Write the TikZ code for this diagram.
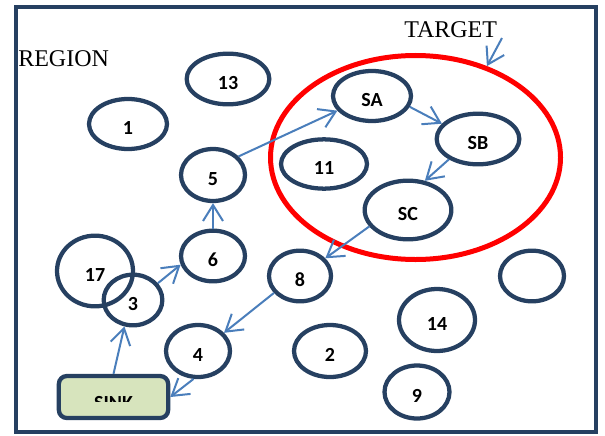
\documentclass[tikz,border=0pt]{standalone}
\usepackage{fontspec}
\setmainfont{Liberation Serif}
\newfontfamily\calfont{Carlito}
\usetikzlibrary{shapes.geometric,arrows.meta}

\definecolor{navy}{RGB}{38,64,97}
\definecolor{linkblue}{RGB}{74,126,187}
\definecolor{sinkgreen}{RGB}{215,228,189}

\begin{document}
\begin{tikzpicture}[x=0.75pt,y=-0.75pt,
	sensor/.style={ellipse,draw=navy,line width=3.2pt,inner sep=0pt,text height=15pt,text depth=0pt,font=\calfont\bfseries\fontsize{15}{18}\selectfont},
	link/.style={->,draw=linkblue,line width=1.5pt},
	>={Straight Barb[length=12pt,width=15pt]}]
	\useasboundingbox (0,0) rectangle (605,435);
	\draw[navy,line width=3.2pt] (16,7) rectangle (596,432);

	% Labels start here
	\node (region) at (18,66) [anchor=base west,inner sep=0pt,font=\fontsize{18}{20}\selectfont] {REGION};
	\node (tlabel) at (404,38) [anchor=base west,inner sep=0pt,font=\fontsize{18}{20}\selectfont] {TARGET};
	\coordinate (tgt) at (502,38);

	% Target area
	\node (target) at (415.5,157.5) [ellipse,draw=red,line width=3.75pt,inner sep=0pt,minimum width=217.5pt,minimum height=153pt] {};

	% Nodes start here
	\node (n13) at (228,79) [sensor,minimum width=62pt,minimum height=38pt] {13};
	\node (n1) at (128,124) [sensor,minimum width=58.5pt,minimum height=37.5pt] {1};
	\node (n5) at (213,175) [sensor,minimum width=48pt,minimum height=39pt] {5};
	\node (n11) at (324,164) [sensor,minimum width=64.5pt,minimum height=37pt] {11};
	\node (sa) at (372,96) [sensor,minimum width=58.5pt,minimum height=37.5pt] {SA};
	\node (sb) at (478,139) [sensor,minimum width=62pt,minimum height=38pt] {SB};
	\node (sc) at (408,210) [sensor,minimum width=65pt,minimum height=44pt] {SC};
	\node (n17) at (95,271) [sensor,minimum width=57pt,minimum height=53pt] {17};
	\node (n3) at (133,300) [sensor,minimum width=44pt,minimum height=38pt] {3};
	\node (n6) at (213,256) [sensor,minimum width=48pt,minimum height=38pt] {6};
	\node (n8) at (300,276) [sensor,minimum width=46.5pt,minimum height=38pt] {8};
	\node (n4) at (198,351) [sensor,minimum width=48pt,minimum height=39pt] {4};
	\node (n2) at (330,351) [sensor,minimum width=54pt,minimum height=39pt] {2};
	\node (n14) at (437,320) [sensor,minimum width=57pt,minimum height=46.5pt] {14};
	\node (n9) at (417,392) [sensor,minimum width=48.75pt,minimum height=39.75pt] {9};
	\node (blank) at (532,276) [sensor,minimum width=48pt,minimum height=38pt] {};

	% Sink, its label is cut off
	\node (sink) at (113.5,397) [rectangle,rounded corners=6pt,draw=navy,fill=sinkgreen,line width=3.2pt,minimum width=82pt,minimum height=31.5pt] {};
	\begin{scope}
		\clip (60,380) rectangle (167,401.5);
		\node (sinklabel) at (113.5,409) [anchor=base,inner sep=0pt,font=\calfont\bfseries\fontsize{15}{18}\selectfont] {SINK};
	\end{scope}

	% Lines start here
	\draw[link] (sink.north) -- (n3.252);
	\draw[link] (n3.34) -- (n6.195);
	\draw[link] (n6.north) -- (n5.south);
	\draw[link] (n5.36) -- (sa.203);
	\draw[link] (sa.344) -- (sb.157);
	\draw[link] (sb.215) -- (sc.60);
	\draw[link] (sc.203) -- (n8.35);
	\draw[link] (n8.213) -- (n4.35);
	\draw[link] (n4.261) -- (sink.east);
	\draw[link] (tgt) -- (target.52);

\end{tikzpicture}
\end{document}
